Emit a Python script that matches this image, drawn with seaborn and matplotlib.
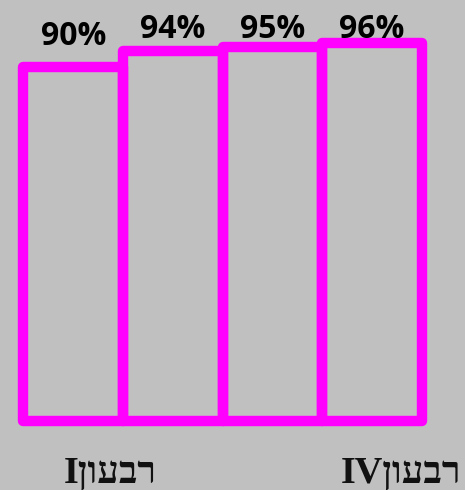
import matplotlib.pyplot as plt
import numpy as np
import seaborn as sns

# Data
quarters = ["רבעון I", "רבעון II", "רבעון III", "רבעון IV"]
values = [90, 94, 95, 96]
value_labels = ["90%", "94%", "95%", "96%"]
shown_labels = ["רבעון I", "", "", "רבעון IV"]
label_shift = [0.37, 0.0, 0.0, 0.29]

BG = "#c0c0c0"
MAGENTA = "#ff00ff"


def to_visual(text):
    # matplotlib has no bidi support: put the Hebrew word in visual order
    parts = text.split(" ")
    out = []
    for p in reversed(parts):
        if any("\u0590" <= ch <= "\u05ff" for ch in p):
            out.append(p[::-1])
        else:
            out.append(p)
    return "".join(out)


def main():
    sns.set_theme(style="white")
    plt.rcParams["font.family"] = ["Open Sans", "DejaVu Sans"]

    fig = plt.figure(figsize=(4.65, 4.9), dpi=100, facecolor=BG)
    ax = fig.add_axes([0.0505, 0.1408, 0.856, 0.8027])
    ax.set_facecolor(BG)

    sns.barplot(x=quarters, y=values, color=MAGENTA, fill=False, width=1.0,
                linewidth=7.5, ax=ax)
    for patch in ax.patches:
        patch.set_edgecolor(MAGENTA)
        patch.set_joinstyle("round")
        patch.set_clip_on(False)

    ax.set_xlim(-0.5, 3.5)
    ax.set_ylim(0, 100)

    # value labels above the bars
    label_y = np.minimum(np.array(values) + 5.6, 97.4)
    for i, (lab, y) in enumerate(zip(value_labels, label_y)):
        ax.text(i, y, lab, ha="center", va="baseline", fontsize=23,
                fontweight="bold", color="black", clip_on=False)

    # category labels (only first and last shown)
    for i, lab in enumerate(shown_labels):
        if not lab:
            continue
        ax.text(i + label_shift[i], -15.6, to_visual(lab), ha="center",
                va="baseline", fontsize=27.5, fontweight="bold", color="#111111",
                family=["Liberation Serif", "DejaVu Serif", "DejaVu Sans"],
                clip_on=False)

    ax.set_xticks([])
    ax.set_yticks([])
    ax.set_xlabel("")
    ax.set_ylabel("")
    sns.despine(ax=ax, left=True, bottom=True)

    fig.savefig("out.png", dpi=100, facecolor=BG)


if __name__ == "__main__":
    main()
